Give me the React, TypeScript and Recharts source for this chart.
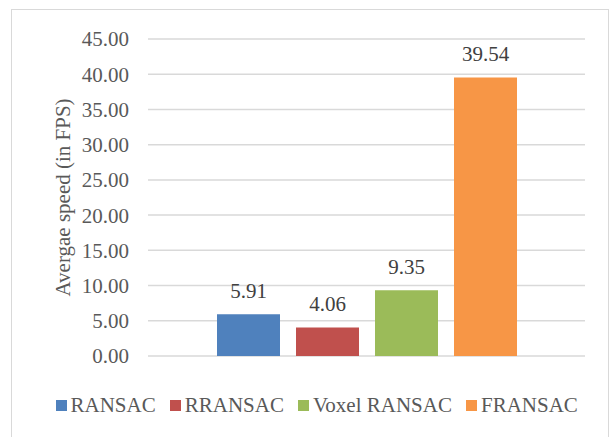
import { BarChart, Bar, XAxis, YAxis, CartesianGrid, Legend, LabelList } from 'recharts';

const seriesNames = ['RANSAC', 'RRANSAC', 'Voxel RANSAC', 'FRANSAC'];
const seriesValues = [5.91, 4.06, 9.35, 39.54];
const seriesColors = ['#4F81BD', '#C0504D', '#9BBB59', '#F79646'];
const yTicks = [0, 5, 10, 15, 20, 25, 30, 35, 40, 45];
const yTitle = 'Avergae speed (in FPS)';

const FONT = '"Liberation Serif", "Times New Roman", serif';
const TEXT = '#595959';

// one category, each method is its own series (like the Excel original)
const row: Record<string, string | number> = { name: '' };
seriesNames.forEach((n, i) => {
  row[n] = seriesValues[i];
});
const data = [row];

function AxisTitle(props: any) {
  const vb = props.viewBox || { x: 0, y: 0, width: 0, height: 0 };
  const cx = vb.x + 52;
  const cy = vb.y + vb.height / 2;
  return (
    <text
      x={cx}
      y={cy}
      transform={`rotate(-90 ${cx} ${cy})`}
      textAnchor="middle"
      dominantBaseline="central"
      fontFamily={FONT}
      fontSize={21}
      fill={TEXT}
    >
      {yTitle}
    </text>
  );
}

function LegendContent() {
  return (
    <div
      style={{
        display: 'flex',
        alignItems: 'center',
        height: 24,
        paddingLeft: 45,
        fontFamily: FONT,
        fontSize: 21,
        color: TEXT,
        whiteSpace: 'nowrap',
      }}
    >
      {seriesNames.map((n, i) => (
        <div key={n} style={{ display: 'flex', alignItems: 'center', marginRight: 14 }}>
          <span style={{ width: 11, height: 11, background: seriesColors[i], marginRight: 4, display: 'inline-block' }} />
          <span>{n}</span>
        </div>
      ))}
    </div>
  );
}

export default function App() {
  return (
    <div
      style={{
        position: 'absolute',
        left: 11,
        top: 9,
        width: 598,
        height: 440,
        border: '1.5px solid #d9d9d9',
        boxSizing: 'border-box',
        background: '#fff',
      }}
    >
      <div style={{ position: 'absolute', left: -1.5, top: -1.5 }}>
        <BarChart
          width={598}
          height={428}
          data={data}
          margin={{ top: 30, right: 24, bottom: 57, left: 0 }}
          barSize={63}
          barGap={16}
        >
          <CartesianGrid vertical={false} stroke="#d9d9d9" strokeWidth={1.5} />
          <XAxis dataKey="name" hide />
          <YAxis
            width={137}
            domain={[0, 45]}
            ticks={yTicks}
            interval={0}
            axisLine={false}
            tickLine={false}
            tickSize={6}
            tickMargin={13}
            tickFormatter={(v: number) => v.toFixed(2)}
            tick={{ fontFamily: FONT, fontSize: 21, fill: TEXT }}
            label={<AxisTitle />}
          />
          <Legend
            verticalAlign="bottom"
            content={<LegendContent />}
            wrapperStyle={{ left: 0, top: 385, width: 598, height: 24 }}
          />
          {seriesNames.map((n, i) => (
            <Bar key={n} dataKey={n} fill={seriesColors[i]} isAnimationActive={false}>
              <LabelList
                dataKey={n}
                position="top"
                offset={16}
                formatter={(v: any) => Number(v).toFixed(2)}
                style={{ fontFamily: FONT, fontSize: 21, fill: '#404040' }}
              />
            </Bar>
          ))}
        </BarChart>
      </div>
    </div>
  );
}
